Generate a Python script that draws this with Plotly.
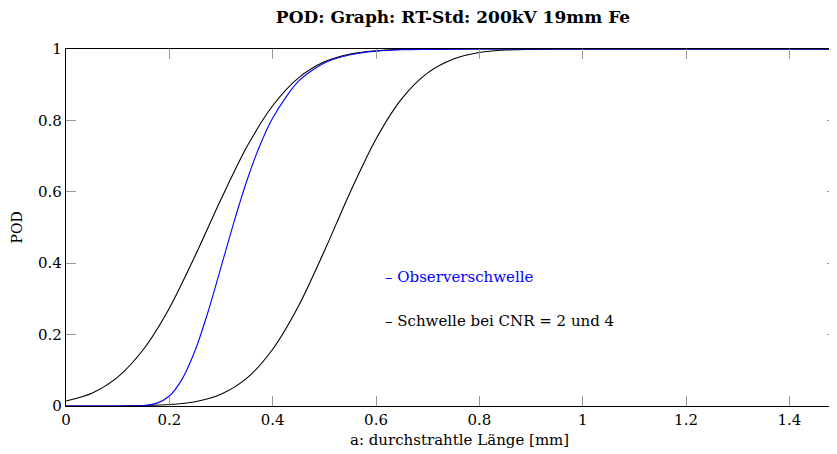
import plotly.graph_objects as go

# ---- data ----
x_cnr2 = [0.0, 0.05, 0.10, 0.15, 0.20, 0.25, 0.30, 0.35, 0.40, 0.45, 0.50, 0.55, 0.60, 0.65, 0.70, 0.80, 1.0, 1.5]
pod_cnr2 = [0.014, 0.036, 0.081, 0.159, 0.274, 0.421, 0.579, 0.726, 0.841, 0.919, 0.964, 0.986, 0.995, 0.999, 1.0, 1.0, 1.0, 1.0]

x_obs = [0.0, 0.05, 0.10, 0.125, 0.15, 0.175, 0.20, 0.225, 0.25, 0.275, 0.30, 0.325, 0.35, 0.375, 0.40,
         0.45, 0.50, 0.55, 0.60, 0.65, 0.70, 0.80, 1.0, 1.5]
pod_obs = [0.0, 0.0, 0.0, 0.0001, 0.0011, 0.0074, 0.028, 0.076, 0.156, 0.264, 0.389, 0.515, 0.631, 0.729, 0.807,
           0.910, 0.961, 0.984, 0.994, 0.998, 0.999, 1.0, 1.0, 1.0]

x_cnr4 = [0.0, 0.10, 0.20, 0.25, 0.30, 0.35, 0.40, 0.45, 0.50, 0.55, 0.60, 0.65, 0.70, 0.75, 0.80, 0.85, 0.90, 0.95, 1.0, 1.5]
pod_cnr4 = [0.0, 0.0002, 0.004, 0.012, 0.033, 0.078, 0.159, 0.280, 0.434, 0.599, 0.748, 0.861, 0.933, 0.972, 0.990, 0.997, 0.999, 1.0, 1.0, 1.0]

x_ticks = [0, 0.2, 0.4, 0.6, 0.8, 1.0, 1.2, 1.4]
x_tick_labels = ["0", "0.2", "0.4", "0.6", "0.8", "1", "1.2", "1.4"]
y_ticks = [0, 0.2, 0.4, 0.6, 0.8, 1.0]
y_tick_labels = ["0", "0.2", "0.4", "0.6", "0.8", "1"]

title_text = "POD: Graph: RT-Std: 200kV 19mm Fe"
x_title = "a: durchstrahtle Länge [mm]"
y_title = "POD"
legend_obs = "– Observerschwelle"
legend_cnr = "– Schwelle bei CNR = 2 und 4"

FONT = "DejaVu Serif, Liberation Serif, serif"
OFF = 8                      # page body margin of the html page
W, H = 837 - OFF, 454 - OFF  # figure size so it ends at the window edge
L, T = 66 - OFF, 49 - OFF    # plot-area left / top in figure pixels
B = (454 - 406)              # bottom margin
plot_w = W - L
plot_h = H - T - B
px_per_unit = 516.7

fig = go.Figure()
fig.add_trace(go.Scatter(x=x_cnr2, y=pod_cnr2, mode="lines", line=dict(color="black", width=1.1, shape="spline", smoothing=0.8),
                         showlegend=False, hoverinfo="skip"))
fig.add_trace(go.Scatter(x=x_cnr4, y=pod_cnr4, mode="lines", line=dict(color="black", width=1.1, shape="spline", smoothing=0.8),
                         showlegend=False, hoverinfo="skip"))
fig.add_trace(go.Scatter(x=x_obs, y=pod_obs, mode="lines", line=dict(color="#0000ff", width=1.1, shape="spline", smoothing=0.8),
                         showlegend=False, hoverinfo="skip"))
fig.add_trace(go.Scatter(x=[None], y=[None], yaxis="y2", showlegend=False, hoverinfo="skip"))


def px_x(sx):
    return (sx - OFF - L) / plot_w


def px_y(sy):
    return (406 - sy) / plot_h


tick_col = "#9a9a9a"
fig.update_layout(
    width=W, height=H,
    margin=dict(l=L, r=0, t=T, b=B, pad=0),
    paper_bgcolor="white", plot_bgcolor="white",
    font=dict(family=FONT, size=15, color="black"),
    title=dict(text="<b>" + title_text + "</b>", x=(453 - OFF) / W, xanchor="center", y=1 - (17 - OFF) / H, yanchor="middle",
               font=dict(family=FONT, size=17, color="black")),
    xaxis=dict(range=[0, plot_w / px_per_unit], tickvals=x_ticks, ticktext=x_tick_labels,
               ticks="inside", ticklen=10, tickwidth=1, tickcolor=tick_col,
               showline=True, linecolor="black", linewidth=1.2, mirror="ticks",
               showgrid=False, zeroline=False, tickfont=dict(size=15)),
    yaxis=dict(range=[0, 1], tickvals=y_ticks, ticktext=y_tick_labels,
               ticks="inside", ticklen=10, tickwidth=1, tickcolor=tick_col,
               showline=True, linecolor="black", linewidth=1.2, mirror=False,
               showgrid=False, zeroline=False, tickfont=dict(size=15)),
    yaxis2=dict(range=[0, 1], overlaying="y", side="right", tickvals=[0.2, 0.4, 0.6, 0.8],
                ticks="inside", ticklen=10, tickwidth=1, tickcolor=tick_col,
                showticklabels=False, showline=False, showgrid=False, zeroline=False),
    annotations=[
        dict(text=x_title, xref="paper", yref="paper", x=px_x(459), y=px_y(440),
             xanchor="center", yanchor="middle", showarrow=False, font=dict(family=FONT, size=15)),
        dict(text=y_title, xref="paper", yref="paper", x=px_x(16), y=0.5, textangle=-90,
             xanchor="center", yanchor="middle", showarrow=False, font=dict(family=FONT, size=14)),
        dict(text=legend_obs, xref="paper", yref="paper", x=px_x(383), y=px_y(277),
             xanchor="left", yanchor="middle", showarrow=False, font=dict(family=FONT, size=15, color="#0000ff")),
        dict(text=legend_cnr, xref="paper", yref="paper", x=px_x(383), y=px_y(321),
             xanchor="left", yanchor="middle", showarrow=False, font=dict(family=FONT, size=15, color="black")),
    ],
)

fig.write_html("out.html")
